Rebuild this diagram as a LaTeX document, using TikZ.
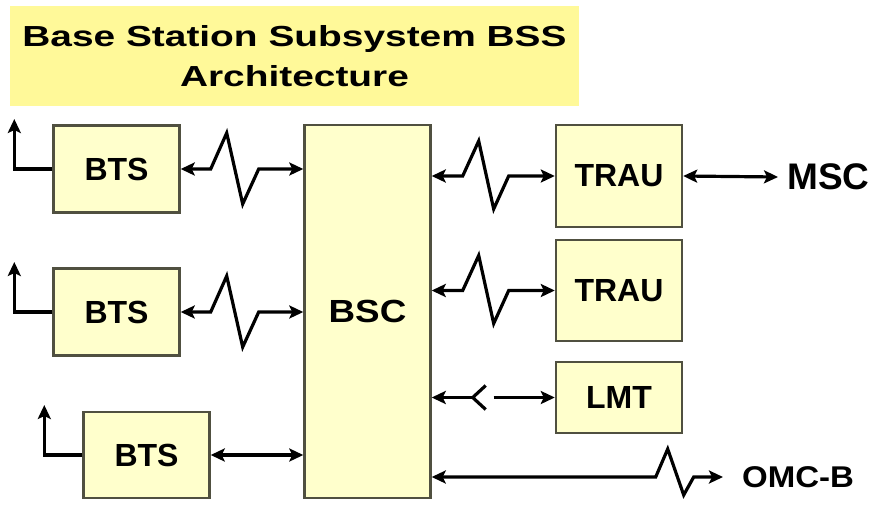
\documentclass[tikz,border=0pt]{standalone}
\usepackage{fontspec}
\setmainfont{Liberation Sans}
\usepackage{graphicx}
\usepackage{tikz}
\usetikzlibrary{arrows.meta}

\definecolor{boxfill}{RGB}{255,255,204}
\definecolor{titlefill}{RGB}{255,249,153}
\definecolor{boxline}{RGB}{80,80,64}

\begin{document}
\begin{tikzpicture}[x=1pt,y=-1pt]
  \tikzstyle{box}=[draw=boxline,fill=boxfill,line width=2.4pt,minimum width=126pt,
    font=\bfseries\fontsize{32}{38}\selectfont]
  \tikzstyle{lbl}=[inner sep=0pt,anchor=west]
  \tikzstyle{wire}=[line width=3.2pt,line join=miter]
  \tikzstyle{link}=[wire,{Stealth[length=14pt,width=13pt,inset=3pt]}-{Stealth[length=14pt,width=13pt,inset=3pt]}]
  \tikzstyle{toarrow}=[wire,-{Stealth[length=14pt,width=13pt,inset=3pt]}]
  \tikzstyle{fromarrow}=[wire,{Stealth[length=14pt,width=13pt,inset=3pt]}-]
  \useasboundingbox (0,0) rectangle (872,504);

  \node[fill=titlefill,minimum width=569pt,minimum height=100pt,align=center,
    font=\bfseries\fontsize{29}{40}\selectfont] (title) at (294.5,56)
    {\scalebox{1.34}[1]{Base Station Subsystem BSS}\\\scalebox{1.34}[1]{Architecture}};

  \node[box,minimum height=87pt] (bts1) at (116.5,169) {BTS};
  \node[box,minimum height=87pt] (bts2) at (116.5,312) {BTS};
  \node[box,minimum height=86pt] (bts3) at (146.5,455) {BTS};
  \node[box,minimum height=373pt] (bsc) at (367.5,311.5) {\scalebox{1.15}[1]{BSC}};
  \node[box,minimum height=102pt] (trau1) at (619,176) {TRAU};
  \node[box,minimum height=101pt] (trau2) at (619,290.5) {TRAU};
  \node[box,minimum height=71pt] (lmt) at (619,397.5) {LMT};
  \node[lbl,font=\bfseries\fontsize{37}{40}\selectfont] (msc) at (787,177) {MSC};
  \node[lbl,font=\bfseries\fontsize{30}{36}\selectfont] (omcb) at (742,477)
    {\scalebox{1.1}[1]{OMC-B}};

  % antennas
  \foreach \b in {bts1,bts2,bts3} {
    \draw[toarrow] (\b.west) -- ++(-38,0) -- ++(0,-50);
  }

  % radio links BTS -> BSC
  \foreach \b in {bts1,bts2} {
    \draw[link] (\b.east) -- ++(30,0) -- ++(16,-36) -- ++(16,71) -- ++(16,-35)
      -- (bsc.west |- \b.east);
  }
  \draw[link] (bts3.east) -- (bsc.west |- bts3.east);

  % BSC -> TRAU
  \foreach \t in {trau1,trau2} {
    \draw[link] (bsc.east |- \t.west) -- ++(31,0) -- ++(16,-35) -- ++(15,68)
      -- ++(15,-33) -- (\t.west);
  }
  \draw[link] (trau1.east) -- ([xshift=-9pt]msc.west);

  % BSC -> LMT
  \draw[fromarrow] (bsc.east |- lmt.west) -- ++(41,0) coordinate (plug);
  \draw[wire] (plug) ++(13,-12) -- (plug) -- ++(13,12);
  \draw[toarrow] ([xshift=21pt]plug) -- (lmt.west);

  % BSC -> OMC-B
  \draw[link] (bsc.east |- omcb.west) -- ++(224,0) -- ++(12,-28) -- ++(16,46)
    -- ++(10,-18) -- ([xshift=-19pt]omcb.west);
\end{tikzpicture}
\end{document}
